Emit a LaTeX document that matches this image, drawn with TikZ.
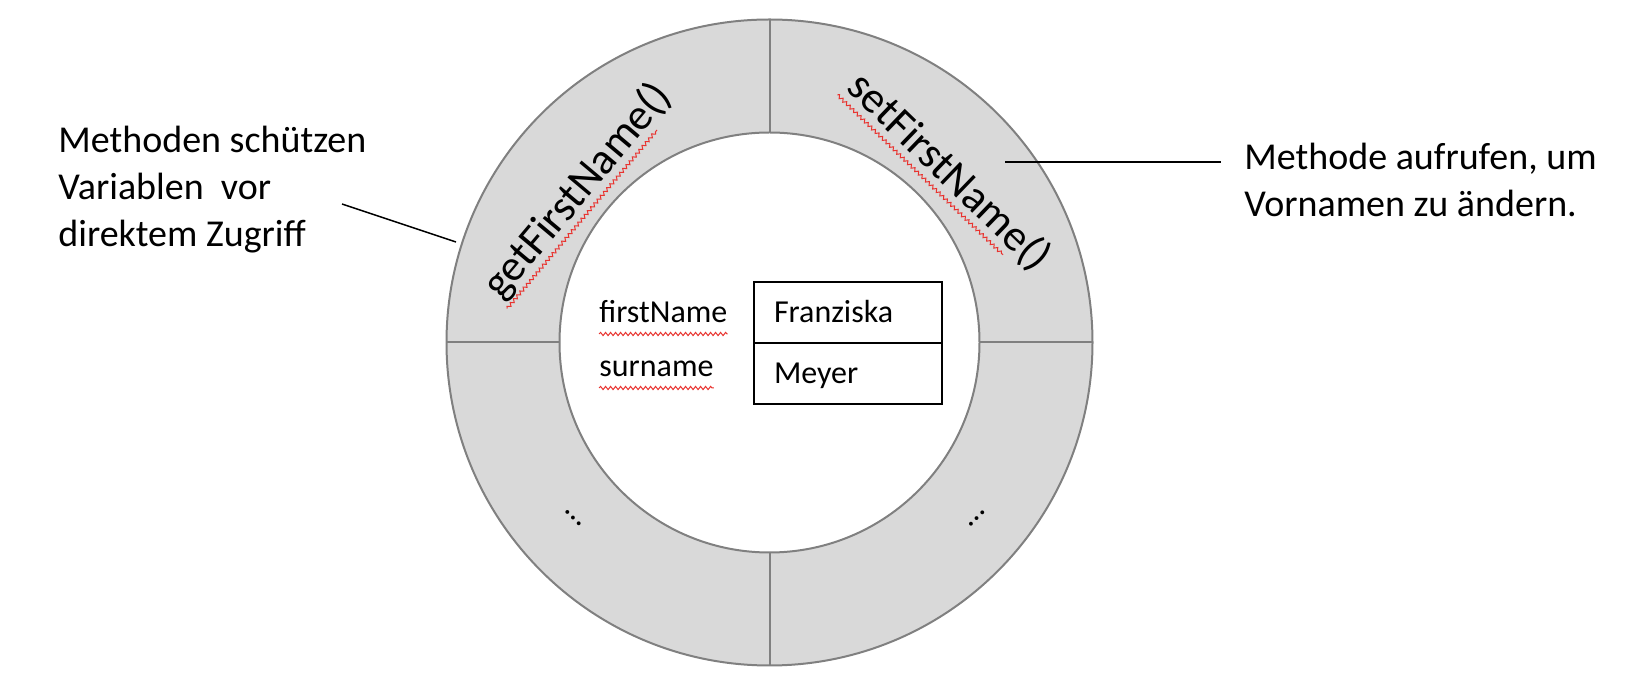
\documentclass[tikz,border=0pt]{standalone}
\usepackage{fontspec}
\setmainfont{Carlito}
\usepackage{tikz}
\usetikzlibrary{positioning, calc, decorations.pathmorphing}
\definecolor{ringGray}{HTML}{D9D9D9}
\definecolor{ringEdge}{HTML}{808080}
\definecolor{spellRed}{HTML}{E8332F}

\begin{document}
\begin{tikzpicture}[
    x=0.5pt, y=-0.5pt,
    ring/.style={draw=ringEdge, line width=1pt},
    note/.style={align=left, anchor=north west, inner sep=0pt, font=\fontsize{19}{23.5}\selectfont},
    method/.style={inner sep=1pt, font=\fontsize{22}{26}\selectfont},
    varname/.style={anchor=base west, inner sep=0pt, font=\fontsize{16}{19}\selectfont},
    valbox/.style={draw, line width=1pt, outer sep=0pt, minimum width=94pt, minimum height=30.5pt,
                   text width=74pt, align=left, inner xsep=10pt, text height=12pt, text depth=1.5pt,
                   font=\fontsize{16}{19}\selectfont},
    more/.style={inner sep=0pt, font=\fontsize{16}{19}\selectfont},
    leader/.style={line width=0.75pt},
    spell/.style={draw=spellRed, line width=0.5pt, decorate,
                  decoration={snake, amplitude=0.8pt, segment length=2.5pt}},
]
\useasboundingbox (0,0) rectangle (1630,694);

% Ring of methods
\coordinate (c) at (769.5,342.5);
\fill[ringGray, even odd rule] (c) circle[radius=161.5pt] (c) circle[radius=105pt];
\draw[ring] (c) circle[radius=161.5pt];
\draw[ring] (c) circle[radius=105pt];
\foreach \a in {0,90,180,270}
  \draw[ring] ([shift={(\a:105pt)}]c) -- ([shift={(\a:161.5pt)}]c);

% Methods
\node[method, rotate=50] (getname) at (578,191) {getFirstName()};
\node[method, rotate=-44] (setname) at (949,172) {setFirstName()};
\node[more, rotate=-45] (moreleft) at (574,518) {…};
\node[more, rotate=45] (moreright) at (977,519) {…};

% Variables
\node[varname] (varfirst) at (599,323) {firstName};
\node[varname] (varsur) at (599,377) {surname};
\node[valbox] (valfirst) at (848,312.5) {Franziska};
\node[valbox, below=0pt of valfirst] (valsur) {Meyer};

% Spelling marks
\draw[spell] ($(getname.base west)!4.5pt!-90:(getname.base east)$) --
             ($($(getname.base west)!0.86!(getname.base east)$)!4.5pt!-90:(getname.base east)$);
\draw[spell] ($(setname.base west)!4.5pt!-90:(setname.base east)$) --
             ($($(setname.base west)!0.86!(setname.base east)$)!4.5pt!-90:(setname.base east)$);
\draw[spell] ([yshift=-5.5pt]varfirst.base west) -- ([yshift=-5.5pt]varfirst.base east);
\draw[spell] ([yshift=-5.5pt]varsur.base west) -- ([yshift=-5.5pt]varsur.base east);

% Notes
\node[note] (getnote) at (58,126) {Methoden schützen\\Variablen~ vor\\direktem Zugriff};
\node[note, inner xsep=11.5pt] (setnote) at (1221,143) {Methode aufrufen, um\\Vornamen zu ändern.};

\coordinate (getstart) at (342,204);
\coordinate (getpt) at (456,242);
\coordinate (setpt) at (1005,162);
\draw[leader] (getstart) -- (getpt);
\draw[leader] (setpt) -- (setpt -| setnote.west);

\end{tikzpicture}
\end{document}
